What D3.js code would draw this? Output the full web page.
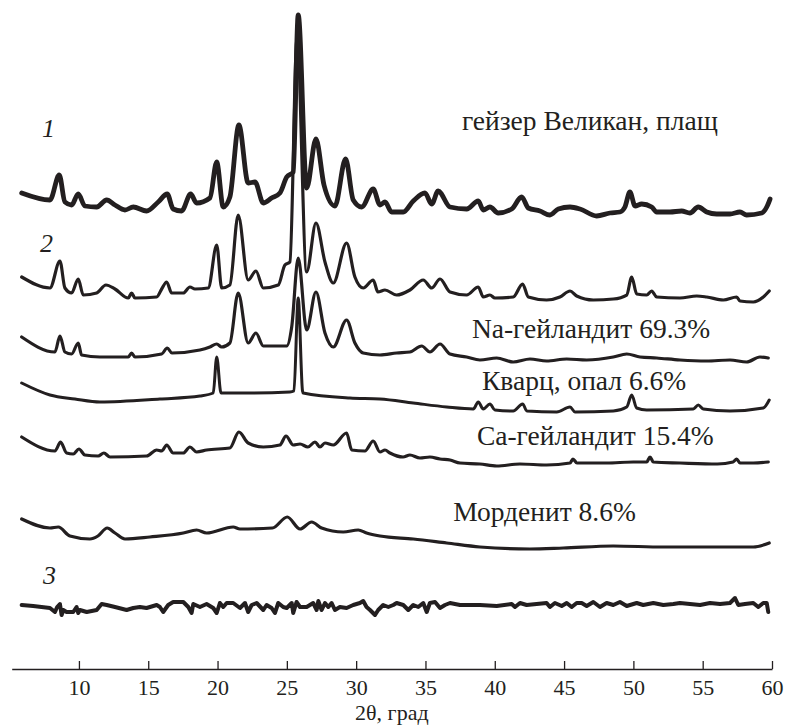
<!DOCTYPE html>
<html>
<head>
<meta charset="utf-8">
<script src="https://cdn.jsdelivr.net/npm/d3@7"></script>
<style>
  body { margin: 0; background: #fff; }
  text { font-family: "Liberation Serif", "DejaVu Serif", serif; fill: #231f20; }
</style>
</head>
<body>
<div id="chart"></div>
<script>
// XRD patterns, 2θ (deg) vs stacked intensity (a.u., offset included)

var ticks = [10, 15, 20, 25, 30, 35, 40, 45, 50, 55, 60];

var trace1 = [
  [5.87,476],[7.91,469],[8.58,494],[8.99,467],[9.47,464],[9.95,475],[10.43,463],[11.28,462],
  [12.0,469],[12.6,464],[13.32,459],[13.92,462],[14.88,458],[15.72,467],[16.37,475],[16.8,460],
  [17.41,458],[18.06,475],[18.49,466],[19.45,471],[19.94,507],[20.41,462],[20.89,472],[21.54,544],
  [22.21,486],[22.7,487],[23.3,466],[23.9,471],[24.5,476],[24.99,492],[25.46,497],[25.82,654],
  [26.43,481],[27.1,530],[27.68,484],[28.47,463],[29.24,510],[29.79,469],[30.4,462],[31.23,480],
  [31.72,464],[32.08,467],[32.56,457],[33.4,457],[34.12,468],[34.96,476],[35.45,465],[35.92,478],
  [36.77,462],[37.97,460],[38.81,468],[39.17,459],[39.65,462],[40.25,456],[41.22,460],[41.94,472],
  [42.42,461],[43.26,458],[43.98,454],[44.58,460],[45.43,462],[46.15,460],[47.35,453],[48.31,456],
  [49.03,457],[49.39,462],[49.75,477],[50.12,463],[50.6,465],[51.32,462],[51.68,457],[52.64,457],
  [53.48,458],[54.08,456],[54.68,462],[55.29,457],[56.01,455],[56.97,455],[57.69,457],[58.17,454],
  [59.26,456],[59.62,462],[59.86,470]
];

var trace2 = [
  [5.87,392],[7.91,381],[8.63,408],[8.99,381],[9.47,376],[9.95,390],[10.31,374],[11.28,376],
  [11.95,384],[12.6,380],[13.56,371],[13.8,376],[14.04,371],[15.61,372],[15.97,380],[16.33,387],
  [16.69,376],[17.53,376],[18.01,382],[18.37,380],[19.33,381],[19.94,424],[20.3,381],[20.89,384],
  [21.49,454],[22.21,389],[22.77,398],[23.3,381],[24.38,384],[24.86,404],[25.22,407],[25.73,629],
  [26.43,397],[27.1,446],[27.75,407],[28.35,386],[29.31,426],[29.91,392],[30.51,381],[31.23,389],
  [31.57,377],[32.08,379],[32.92,374],[33.88,379],[34.84,389],[35.45,381],[36.05,390],[36.77,377],
  [37.97,374],[38.81,382],[39.17,372],[39.65,374],[40.01,371],[41.33,372],[42.01,385],[42.42,372],
  [43.74,369],[44.7,372],[45.43,378],[45.91,373],[47.11,369],[48.55,370],[49.52,374],[49.88,392],
  [50.24,375],[50.96,374],[51.32,378],[51.68,372],[53.36,371],[54.57,373],[55.29,372],[56.49,369],
  [57.45,372],[57.69,368],[58.65,367],[59.37,372],[59.8,378]
];

var naHeulandite = [
  [5.87,332],[8.27,317],[8.63,333],[8.99,317],[9.47,315],[9.95,326],[10.19,314],[11.52,312],
  [13.56,312],[13.8,316],[14.04,312],[15.97,315],[16.37,321],[16.71,316],[18.73,319],[19.45,322],
  [19.94,325],[20.3,322],[20.89,326],[21.49,376],[22.21,326],[22.77,336],[23.3,323],[24.99,323],
  [25.35,342],[25.82,411],[26.43,339],[27.1,377],[27.75,336],[28.35,322],[29.31,349],[29.91,326],
  [30.51,316],[31.72,314],[32.92,316],[33.88,317],[34.73,323],[35.32,317],[36.05,325],[36.77,315],
  [37.97,312],[38.93,309],[40.14,311],[41.33,307],[42.54,310],[43.74,308],[45.19,310],[46.63,309],
  [48.55,312],[49.52,315],[50.48,312],[51.68,311],[53.36,309],[55.29,308],[56.97,309],[58.17,307],
  [59.13,312],[59.73,311]
];

var quartzOpal = [
  [5.87,286],[7.91,274],[9.71,270],[11.52,267],[15.84,270],[18.73,273],[19.69,276],[19.94,312],
  [20.25,276],[22.34,276],[25.22,277],[25.51,278],[25.82,371],[26.13,278],[26.18,276],[29.55,271],
  [31.72,270],[34.12,266],[36.53,262],[38.45,260],[38.81,267],[39.17,260],[39.65,265],[40.01,259],
  [41.33,258],[42.01,265],[42.32,258],[44.47,257],[45.43,262],[45.79,257],[48.55,258],[49.52,262],
  [49.88,274],[50.24,261],[50.96,259],[54.32,260],[54.68,264],[55.04,260],[56.97,258],[59.37,261],
  [59.8,269]
];

var caHeulandite = [
  [5.87,232],[8.27,218],[8.68,227],[9.11,216],[9.59,215],[10.0,220],[10.43,214],[11.39,213],
  [11.8,216],[12.24,212],[14.88,213],[15.61,219],[15.97,218],[16.33,224],[16.8,216],[17.53,216],
  [18.01,222],[18.49,217],[19.21,219],[20.89,221],[21.54,237],[22.21,226],[23.3,222],[24.5,224],
  [24.94,233],[25.46,224],[25.95,225],[26.52,222],[27.03,227],[27.39,222],[27.75,226],[28.35,224],
  [29.31,236],[29.68,219],[30.63,218],[31.23,228],[31.72,217],[32.08,219],[32.44,216],[33.38,212],
  [33.88,214],[34.6,211],[35.32,212],[36.05,210],[36.77,209],[37.49,206],[38.93,205],[40.14,203],
  [41.82,205],[43.74,204],[45.43,206],[45.64,210],[45.93,206],[48.07,206],[49.99,207],[50.96,207],
  [51.2,212],[51.44,207],[53.36,206],[56.06,205],[57.19,207],[57.45,210],[57.69,206],[58.65,206],
  [59.73,207]
];

var mordenite = [
  [5.87,150],[7.91,141],[8.51,142],[9.35,133],[10.79,130],[11.37,133],[12.04,141],[12.6,136],
  [13.32,130],[15.12,132],[17.53,136],[18.49,139],[19.21,136],[21.13,142],[21.62,140],[23.96,141],
  [25.03,152],[25.95,140],[26.79,147],[27.51,141],[29.07,137],[30.15,139],[30.75,136],[31.72,133],
  [34.12,130],[36.53,126],[38.93,122],[42.54,120],[44.94,121],[48.55,123],[52.16,122],[56.06,122],
  [58.65,122],[59.8,126]
];

var trace3 = [
  [5.87,64],[6.7,63],[7.91,61],[8.27,57],[8.43,62],[8.63,65],[8.75,54],[8.87,59],[9.11,57],
  [9.59,57],[9.83,62],[9.95,56],[10.07,59],[10.56,57],[11.28,59],[11.64,65],[12.0,64],[12.6,62],
  [13.44,59],[13.92,61],[14.4,62],[14.88,61],[15.61,64],[15.84,62],[16.08,57],[16.44,64],[16.8,67],
  [17.53,67],[17.89,62],[18.13,56],[18.25,65],[18.73,62],[19.21,65],[19.69,61],[19.94,56],[20.17,66],
  [20.41,62],[20.66,66],[21.13,66],[21.62,61],[21.98,66],[22.21,57],[22.46,64],[22.82,66],[23.3,59],
  [23.54,64],[23.9,61],[24.14,56],[24.38,66],[24.74,62],[24.99,61],[25.35,66],[25.46,56],[25.7,67],
  [25.95,62],[26.43,62],[26.9,66],[27.15,59],[27.27,68],[27.51,59],[27.75,66],[27.99,62],[28.23,66],
  [28.47,59],[28.83,62],[29.31,61],[29.79,64],[30.27,66],[30.51,68],[30.75,62],[31.0,59],[31.36,54],
  [31.59,59],[31.95,64],[32.32,62],[32.68,64],[32.92,66],[33.4,64],[33.76,59],[34.12,64],[34.48,62],
  [34.84,66],[35.09,57],[35.32,66],[35.69,67],[36.05,61],[36.41,64],[36.77,66],[37.49,64],[38.93,64],
  [40.14,63],[41.22,65],[41.46,62],[41.82,66],[42.3,64],[43.02,65],[43.74,66],[43.98,62],[44.34,66],
  [44.83,63],[45.19,66],[45.55,62],[45.91,66],[46.27,66],[46.63,63],[47.11,67],[47.59,62],[48.07,66],
  [48.55,64],[49.03,67],[49.52,63],[50.24,66],[50.71,64],[51.44,66],[52.16,64],[52.88,65],[53.36,66],
  [54.08,65],[54.81,64],[55.53,66],[56.25,65],[56.97,66],[57.33,71],[57.57,64],[58.05,65],[58.65,66],
  [59.01,62],[59.37,66],[59.62,66],[59.73,57]
];

var series = [
  { name: "1", values: trace1, width: 4.8, curve: d3.curveMonotoneX },
  { name: "2", values: trace2, width: 3.2, curve: d3.curveMonotoneX },
  { name: "Na", values: naHeulandite, width: 3.2, curve: d3.curveMonotoneX },
  { name: "Qz", values: quartzOpal, width: 3, curve: d3.curveMonotoneX },
  { name: "Ca", values: caHeulandite, width: 3.2, curve: d3.curveMonotoneX },
  { name: "Mor", values: mordenite, width: 3.2, curve: d3.curveMonotoneX },
  { name: "3", values: trace3, width: 4, curve: d3.curveLinear }
];

// labels: [2θ, intensity, text, italic]
var labels = [
  [37.63, 539, "гейзер Великан, плащ", false],
  [38.35, 331, "Na-гейландит 69.3%", false],
  [39.08, 279, "Кварц, опал 6.6%", false],
  [38.71, 224, "Ca-гейландит 15.4%", false],
  [37.0, 148, "Морденит 8.6%", false],
  [7.33, 532, "1", true],
  [7.19, 417, "2", true],
  [7.4, 85, "3", true]
];

var width = 786;
var height = 725;

var svg = d3
  .select("#chart")
  .append("svg")
  .attr("width", width)
  .attr("height", height);

var x = d3.scaleLinear().domain([5.15, 60]).range([11.7, 772]);
var y = d3.scaleLinear().domain([0, 669]).range([669, 0]);

// axis
var axis = svg
  .append("g")
  .attr("transform", "translate(0," + y(0) + ")")
  .call(
    d3
      .axisBottom(x)
      .tickValues(ticks)
      .tickSizeInner(-8)
      .tickSizeOuter(0)
      .tickPadding(10)
      .tickFormat(d3.format("d"))
  );
axis.select(".domain").attr("stroke", "#231f20").attr("stroke-width", 1.3);
axis.selectAll(".tick line").attr("stroke", "#231f20").attr("stroke-width", 1.3);
axis
  .selectAll(".tick text")
  .attr("fill", "#231f20")
  .style("font-family", '"Liberation Serif", serif')
  .style("font-size", "22px");

svg
  .append("text")
  .attr("x", (x.range()[0] + x.range()[1]) / 2)
  .attr("y", 719.5)
  .attr("text-anchor", "middle")
  .style("font-size", "22px")
  .text("2θ, град");

// traces
var line = d3
  .line()
  .x(function(d) { return x(d[0]); })
  .y(function(d) { return y(d[1]); });

series.forEach(function(s) {
  svg
    .append("path")
    .datum(s.values)
    .attr("fill", "none")
    .attr("stroke", "#231f20")
    .attr("stroke-width", s.width)
    .attr("stroke-linejoin", "round")
    .attr("stroke-linecap", "round")
    .attr("d", line.curve(s.curve));
});

// labels
svg
  .selectAll(".lbl")
  .data(labels)
  .join("text")
  .attr("class", "lbl")
  .attr("x", function(d) { return x(d[0]); })
  .attr("y", function(d) { return y(d[1]); })
  .style("font-size", function(d) { return d[3] ? "26px" : "27.5px"; })
  .style("font-style", function(d) { return d[3] ? "italic" : "normal"; })
  .text(function(d) { return d[2]; });
</script>
</body>
</html>
